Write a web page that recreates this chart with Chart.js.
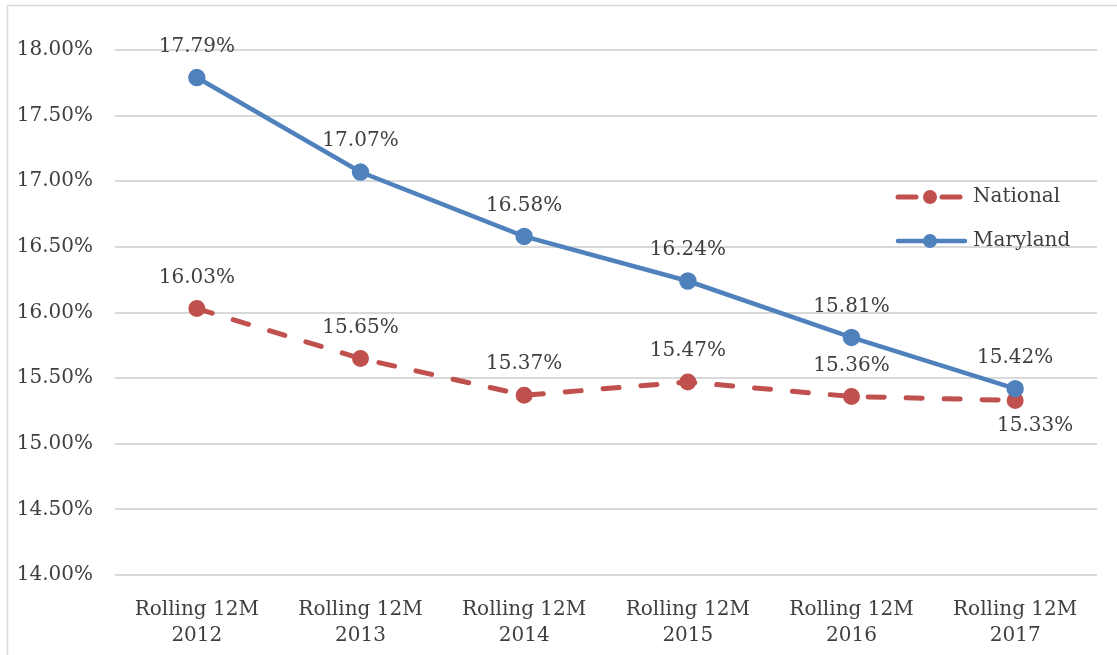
<!DOCTYPE html>
<html>
<head>
<meta charset="utf-8">
<script src="https://cdn.jsdelivr.net/npm/chart.js@4/dist/chart.umd.min.js"></script>
<style>
  html, body { margin: 0; padding: 0; background: #fff; }
  #wrap { width: 1117px; height: 655px; }
</style>
</head>
<body>
<div id="wrap"><canvas id="rateChart" width="1117" height="655"></canvas></div>
<script>
const years = ['2012', '2013', '2014', '2015', '2016', '2017'];
const categories = years.map(y => ['Rolling 12M', y]);
const nationalRates = [16.03, 15.65, 15.37, 15.47, 15.36, 15.33];
const marylandRates = [17.79, 17.07, 16.58, 16.24, 15.81, 15.42];
const yMin = 14, yMax = 18, yStep = 0.5;

const FONT = 'DejaVu Serif';
const TEXT = '#3f3f3f';
const RED = '#C0504D';
const BLUE = '#4F81BD';

const fmt = v => v.toFixed(2) + '%';

// frame round the chart (left and top edges only show)
const framePlugin = {
    id: 'frame',
    beforeDraw(chart) {
        const ctx = chart.ctx;
        ctx.save();
        ctx.fillStyle = '#fff';
        ctx.fillRect(0, 0, chart.width, chart.height);
        ctx.strokeStyle = '#d9d9d9';
        ctx.lineWidth = 1.5;
        ctx.strokeRect(7.5, 5.5, chart.width + 20, chart.height + 20);
        ctx.restore();
    }
};

// value labels next to each point
const labelPlugin = {
    id: 'valueLabels',
    afterDatasetsDraw(chart) {
        const ctx = chart.ctx;
        ctx.save();
        ctx.font = `20px "${FONT}"`;
        ctx.fillStyle = TEXT;
        ctx.textAlign = 'center';
        ctx.textBaseline = 'middle';
        chart.data.datasets.forEach((ds, di) => {
            const meta = chart.getDatasetMeta(di);
            meta.data.forEach((pt, i) => {
                const below = ds.label === 'National' && i === ds.data.length - 1;
                const x = pt.x + (below ? 20 : 0);
                const y = below ? pt.y + 25 : pt.y - 31;
                ctx.fillText(fmt(ds.data[i]), x, y);
            });
        });
        ctx.restore();
    }
};

// legend drawn inside the plot, top right
const legendPlugin = {
    id: 'insideLegend',
    afterDraw(chart) {
        const ctx = chart.ctx;
        const rows = [
            { ds: chart.data.datasets[0], y: 197 },
            { ds: chart.data.datasets[1], y: 241 }
        ];
        ctx.save();
        rows.forEach(r => {
            ctx.strokeStyle = r.ds.borderColor;
            ctx.lineWidth = r.ds.borderWidth;
            ctx.lineCap = 'round';
            ctx.beginPath();
            if (r.ds.borderDash) {
                ctx.moveTo(898, r.y); ctx.lineTo(916, r.y);
                ctx.moveTo(942, r.y); ctx.lineTo(960, r.y);
            } else {
                ctx.moveTo(898, r.y); ctx.lineTo(965, r.y);
            }
            ctx.stroke();
            ctx.fillStyle = r.ds.pointBackgroundColor;
            ctx.beginPath();
            ctx.arc(930, r.y, 7, 0, Math.PI * 2);
            ctx.fill();
            ctx.font = `20px "${FONT}"`;
            ctx.fillStyle = TEXT;
            ctx.textAlign = 'left';
            ctx.textBaseline = 'middle';
            ctx.fillText(r.ds.label, 973, r.y);
        });
        ctx.restore();
    }
};

new Chart(document.getElementById('rateChart').getContext('2d'), {
    type: 'line',
    data: {
        labels: categories,
        datasets: [
            {
                label: 'National',
                data: nationalRates,
                borderColor: RED,
                backgroundColor: RED,
                pointBackgroundColor: RED,
                pointBorderColor: RED,
                borderWidth: 5,
                borderDash: [16, 22],
                borderCapStyle: 'round',
                pointRadius: 6,
                fill: false,
                tension: 0,
                order: 1
            },
            {
                label: 'Maryland',
                data: marylandRates,
                borderColor: BLUE,
                backgroundColor: BLUE,
                pointBackgroundColor: BLUE,
                pointBorderColor: BLUE,
                borderWidth: 4.5,
                pointRadius: 6.5,
                fill: false,
                tension: 0,
                order: 0
            }
        ]
    },
    options: {
        responsive: false,
        animation: false,
        devicePixelRatio: 1,
        layout: { padding: { left: 0, top: 50, right: 20, bottom: 0 } },
        scales: {
            x: {
                offset: true,
                grid: { display: false },
                border: { display: false },
                ticks: {
                    color: TEXT,
                    padding: 14,
                    maxRotation: 0,
                    font: { family: FONT, size: 20, lineHeight: 1.3 }
                },
                afterFit: s => { s.height = 80; }
            },
            y: {
                min: yMin,
                max: yMax,
                grid: { color: '#d9d9d9', lineWidth: 2, drawTicks: false },
                border: { display: false },
                ticks: {
                    stepSize: yStep,
                    color: TEXT,
                    padding: 22,
                    font: { family: FONT, size: 20 },
                    callback: v => fmt(v)
                },
                afterFit: s => { s.width = 115; }
            }
        },
        plugins: {
            legend: { display: false },
            tooltip: { enabled: false }
        }
    },
    plugins: [framePlugin, labelPlugin, legendPlugin]
});
</script>
</body>
</html>
